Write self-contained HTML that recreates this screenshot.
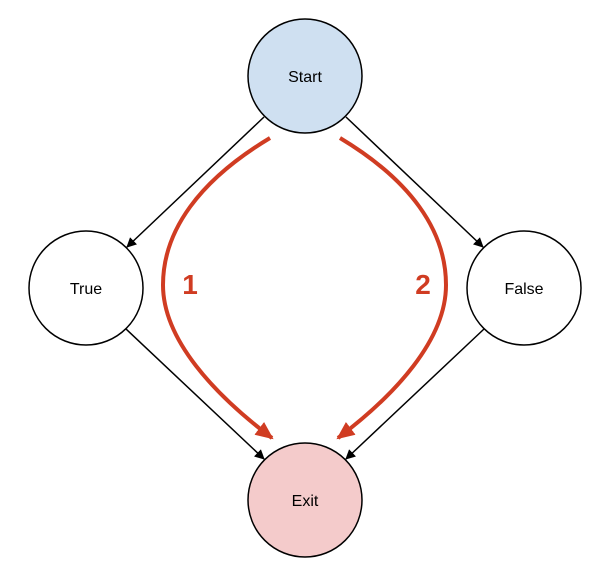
<!DOCTYPE html>
<html><head><style>body{margin:0;background:#fff}svg{display:block}</style></head><body>
<svg width="610" height="576" viewBox="0 0 610 576" xmlns="http://www.w3.org/2000/svg">
<defs>
<marker id="ab" markerWidth="10" markerHeight="10" refX="9" refY="5" orient="auto" markerUnits="userSpaceOnUse"><path d="M0,0 L10,5 L0,10 z" fill="#000"/></marker>
<marker id="ar" markerWidth="18" markerHeight="16" refX="16" refY="8" orient="auto" markerUnits="userSpaceOnUse"><path d="M0,0 L18,8 L0,16 z" fill="#d03c22"/></marker>
</defs>
<g stroke="#000" stroke-width="1.5" fill="none">
<line x1="264" y1="117" x2="127" y2="247" marker-end="url(#ab)"/>
<line x1="346" y1="117" x2="483" y2="247" marker-end="url(#ab)"/>
<line x1="126" y1="329" x2="264" y2="459" marker-end="url(#ab)"/>
<line x1="484" y1="329" x2="346" y2="459" marker-end="url(#ab)"/>
</g>
<g stroke="#d03c22" stroke-width="4" fill="none">
<path d="M270,138 C200,180 163,230 163,285 C163,340 215,395 272,438" marker-end="url(#ar)"/>
<path d="M340,138 C410,180 446,230 446,285 C446,340 395,395 338,438" marker-end="url(#ar)"/>
</g>
<g stroke="#000" stroke-width="1.5">
<circle cx="305" cy="76" r="57" fill="#cfe0f1"/>
<circle cx="86" cy="288" r="57" fill="#fff"/>
<circle cx="524" cy="288" r="57" fill="#fff"/>
<circle cx="305" cy="500" r="57" fill="#f4cbcb"/>
</g>
<g font-family="Liberation Sans, sans-serif" font-size="16" text-anchor="middle" fill="#000">
<text x="305" y="82">Start</text>
<text x="86" y="294">True</text>
<text x="524" y="294">False</text>
<text x="305" y="506">Exit</text>
</g>
<g font-family="Liberation Sans, sans-serif" font-size="28" font-weight="bold" text-anchor="middle" fill="#d03c22">
<text x="190" y="294">1</text>
<text x="423" y="294">2</text>
</g>
</svg>
</body></html>
